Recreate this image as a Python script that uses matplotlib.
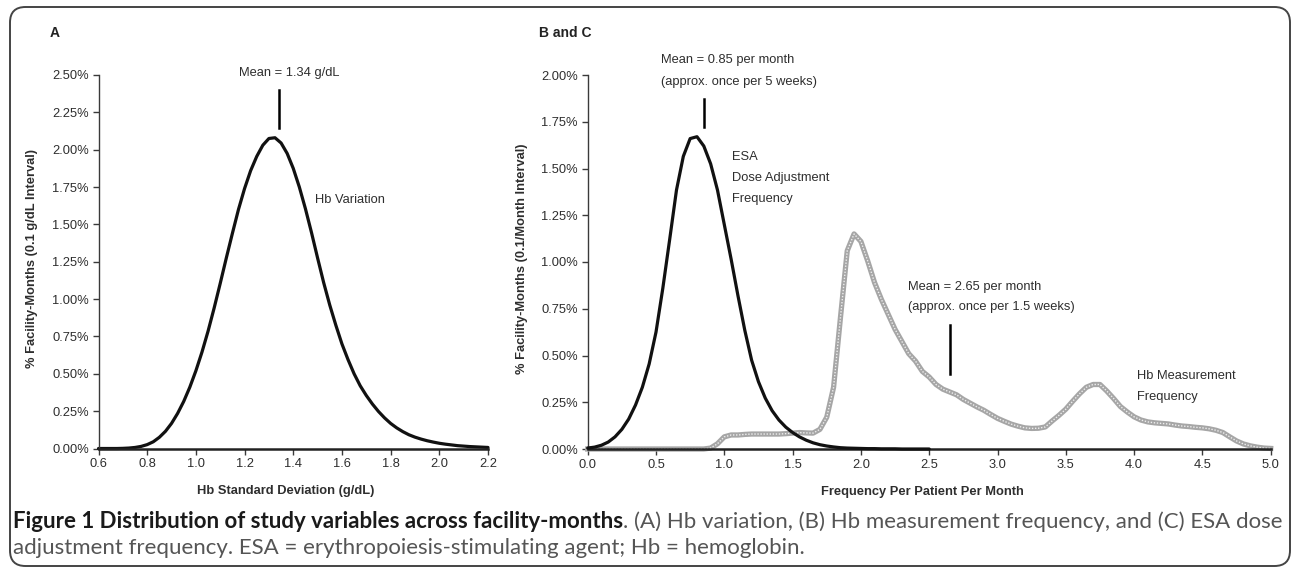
import numpy as np
import matplotlib
matplotlib.use("Agg")
import matplotlib.pyplot as plt
from matplotlib.ticker import FuncFormatter, MultipleLocator
from matplotlib.patches import FancyBboxPatch

plt.rcParams['font.family'] = ['Liberation Sans', 'DejaVu Sans']

# ---------------- data ----------------
# Panel A: Hb standard deviation distribution (% facility-months)
hb_sd_x = np.round(np.arange(0.6, 2.2001, 0.025), 3)
hb_sd_pct = [0.000, 0.000, 0.000, 0.000, 0.001, 0.003, 0.007, 0.014, 0.026, 0.045,
             0.075, 0.115, 0.168, 0.235, 0.315, 0.41, 0.52, 0.645, 0.785, 0.94,
             1.105, 1.275, 1.44, 1.60, 1.74, 1.86, 1.955, 2.03, 2.075, 2.08,
             2.045, 1.975, 1.875, 1.75, 1.605, 1.445, 1.275, 1.11, 0.96, 0.825,
             0.70, 0.595, 0.50, 0.42, 0.355, 0.298, 0.248, 0.205, 0.168, 0.138,
             0.113, 0.092, 0.076, 0.063, 0.052, 0.043, 0.035, 0.029, 0.024, 0.019,
             0.016, 0.013, 0.011, 0.009, 0.007]

# Panel B/C: ESA dose adjustment frequency
esa_x = np.round(np.arange(0.0, 2.5001, 0.05), 3)
esa_pct = [0.005, 0.010, 0.020, 0.037, 0.065, 0.105, 0.160, 0.235, 0.33, 0.455,
           0.625, 0.86, 1.12, 1.385, 1.565, 1.66, 1.67, 1.62, 1.525, 1.385,
           1.20, 1.015, 0.82, 0.635, 0.475, 0.36, 0.272, 0.205, 0.155, 0.117,
           0.088, 0.065, 0.047, 0.033, 0.023, 0.016, 0.011, 0.007, 0.005, 0.004,
           0.003, 0.002, 0.002, 0.001, 0.001, 0.001, 0.0, 0.0, 0.0, 0.0, 0.0]

# Panel B/C: Hb measurement frequency
hbm_x = np.round(np.arange(0.0, 5.0001, 0.05), 3)
hbm_pct = [0.0] * 18 + [
    0.005, 0.028, 0.065, 0.075, 0.075, 0.078, 0.08, 0.08, 0.08, 0.08,
    0.08, 0.082, 0.085, 0.088, 0.086, 0.085, 0.105, 0.17, 0.33, 0.70,
    1.06, 1.15, 1.11, 1.005, 0.89, 0.80, 0.72, 0.64, 0.575, 0.51,
    0.47, 0.415, 0.385, 0.345, 0.32, 0.305, 0.29, 0.265, 0.245, 0.225,
    0.207, 0.185, 0.164, 0.148, 0.133, 0.122, 0.113, 0.110, 0.111, 0.118,
    0.15, 0.18, 0.213, 0.255, 0.295, 0.33, 0.345, 0.345, 0.31, 0.27,
    0.227, 0.198, 0.172, 0.155, 0.145, 0.14, 0.137, 0.134, 0.128, 0.123,
    0.12, 0.116, 0.113, 0.108, 0.10, 0.088, 0.065, 0.043, 0.027, 0.017,
    0.01, 0.005, 0.003]

mean_hb_sd = 1.34
mean_esa = 0.85
mean_hbm = 2.65

# ---------------- figure ----------------
fig = plt.figure(figsize=(12.93, 5.72), dpi=100)
W, H = 1293, 572

def fx(px):
    return px / W

def fy(py):
    return 1 - py / H

TXT = "#2e2e2e"
AX = "#3a3a3a"
FS = 9.3

# outer rounded frame
frame = FancyBboxPatch((fx(10), fy(566)), fx(1280), (566 - 7) / H,
                       boxstyle="round,pad=0,rounding_size=0.012",
                       transform=fig.transFigure, fill=False,
                       edgecolor="#444444", linewidth=1.4, mutation_aspect=W / H)
fig.patches.append(frame)

axA = fig.add_axes([fx(98.5), fy(448.5), fx(488 - 98.5), (448.5 - 75) / H])
axB = fig.add_axes([fx(587.7), fy(449), fx(1270.7 - 587.7), (449 - 75) / H])

pct_fmt = FuncFormatter(lambda v, p: f"{v:.2f}%")

for ax in (axA, axB):
    for s in ("top", "right"):
        ax.spines[s].set_visible(False)
    ax.spines["left"].set_color(AX)
    ax.spines["left"].set_linewidth(1.0)
    ax.spines["bottom"].set_color("#222222")
    ax.spines["bottom"].set_linewidth(1.8)
    ax.tick_params(direction="out", length=4, width=1.0, color=AX,
                   labelsize=FS, labelcolor=TXT, pad=3)
    ax.yaxis.set_major_formatter(pct_fmt)
    ax.xaxis.set_major_formatter(FuncFormatter(lambda v, p: f"{v:.1f}"))
    ax.yaxis.set_major_locator(MultipleLocator(0.25))
    ax.patch.set_alpha(0)

# Panel A
axA.plot(hb_sd_x, hb_sd_pct, color="#111111", lw=2.3, solid_joinstyle="round",
         solid_capstyle="round", clip_on=False)
axA.set_xlim(0.6, 2.2)
axA.set_ylim(0, 2.5)
axA.xaxis.set_major_locator(MultipleLocator(0.2))
axA.set_ylabel("% Facility-Months (0.1 g/dL Interval)", fontsize=FS,
               fontweight="bold", color=TXT, va="center", ha="center")
axA.yaxis.set_label_coords(-0.171, 0.51)
axA.set_xlabel("Hb Standard Deviation (g/dL)", fontsize=FS,
               fontweight="bold", color=TXT, va="center", ha="center")
axA.xaxis.set_label_coords(0.48, -0.115)
axA.plot([mean_hb_sd, mean_hb_sd], [2.146, 2.40], color="black", lw=1.8,
         clip_on=False)
axA.text(1.385, 2.513, f"Mean = {mean_hb_sd:.2f} g/dL", ha="center",
         va="center", fontsize=FS, color=TXT, clip_on=False)
axA.text(1.491, 1.664, "Hb Variation", ha="left", va="center",
         fontsize=FS, color=TXT)

# Panel B
axB.plot(hbm_x, hbm_pct, color="#a6a6a6", lw=3.8, solid_joinstyle="round",
         clip_on=False, zorder=2)
axB.plot(hbm_x, hbm_pct, color="#eeeeee", lw=1.0, ls=(0, (1, 1.2)),
         clip_on=False, zorder=2.1)
axB.plot(esa_x, esa_pct, color="#111111", lw=2.3, solid_joinstyle="round",
         solid_capstyle="round", clip_on=False, zorder=3)
axB.set_xlim(0, 5.0)
axB.set_ylim(0, 2.0)
axB.xaxis.set_major_locator(MultipleLocator(0.5))
axB.set_ylabel("% Facility-Months (0.1/Month Interval)", fontsize=FS,
               fontweight="bold", color=TXT, va="center", ha="center")
axB.yaxis.set_label_coords(-0.0966, 0.51)
axB.set_xlabel("Frequency Per Patient Per Month", fontsize=FS,
               fontweight="bold", color=TXT, va="center", ha="center")
axB.xaxis.set_label_coords(0.4905, -0.115)

axB.plot([mean_esa, mean_esa], [1.72, 1.872], color="black", lw=1.8,
         clip_on=False)
axB.text(0.54, 2.08, f"Mean = {mean_esa:.2f} per month", ha="left",
         va="center", fontsize=FS, color=TXT, clip_on=False)
axB.text(0.54, 1.964, "(approx. once per 5 weeks)", ha="left",
         va="center", fontsize=FS, color=TXT, clip_on=False)
axB.plot([mean_hbm, mean_hbm], [0.40, 0.663], color="black", lw=1.8)
axB.text(2.347, 0.868, f"Mean = {mean_hbm:.2f} per month", ha="left",
         va="center", fontsize=FS, color=TXT)
axB.text(2.347, 0.758, "(approx. once per 1.5 weeks)", ha="left",
         va="center", fontsize=FS, color=TXT)
for i, t in enumerate(["ESA", "Dose Adjustment", "Frequency"]):
    axB.text(1.054, 1.56 - i * 0.1115, t, ha="left", va="center",
             fontsize=FS, color=TXT)
for i, t in enumerate(["Hb Measurement", "Frequency"]):
    axB.text(4.023, 0.392 - i * 0.112, t, ha="left", va="center",
             fontsize=FS, color=TXT)

# panel letters
fig.text(fx(50), fy(33), "A", fontsize=10, fontweight="bold", color="#222222",
         ha="left", va="center")
fig.text(fx(539), fy(33), "B and C", fontsize=10, fontweight="bold",
         color="#222222", ha="left", va="center")

# caption
cap_family = ["Lato", "DejaVu Sans"]
bold_part = "Figure 1 Distribution of study variables across facility-months"
rest_part = ". (A) Hb variation, (B) Hb measurement frequency, and (C) ESA dose"
line2 = "adjustment frequency. ESA = erythropoiesis-stimulating agent; Hb = hemoglobin."

fig.canvas.draw()
renderer = fig.canvas.get_renderer()
size = 12.0
x0 = fx(13)
y1 = fy(522)
t1 = fig.text(x0, y1, bold_part, fontsize=size, fontweight="bold",
              family=cap_family, color="#1a1a1a", ha="left", va="center")
bb1 = t1.get_window_extent(renderer)
t2 = fig.text(bb1.x1 / W, y1, rest_part, fontsize=size, family=cap_family,
              color="#555555", ha="left", va="center")
bb2 = t2.get_window_extent(renderer)
total = bb2.x1 - bb1.x0
target = 1274 - 13
size = size * target / total
t1.set_fontsize(size)
bb1 = t1.get_window_extent(renderer)
t2.set_fontsize(size)
t2.set_x(bb1.x1 / W)
fig.text(x0, fy(548), line2, fontsize=size, family=cap_family,
         color="#555555", ha="left", va="center")

fig.savefig("out.png", dpi=100)
